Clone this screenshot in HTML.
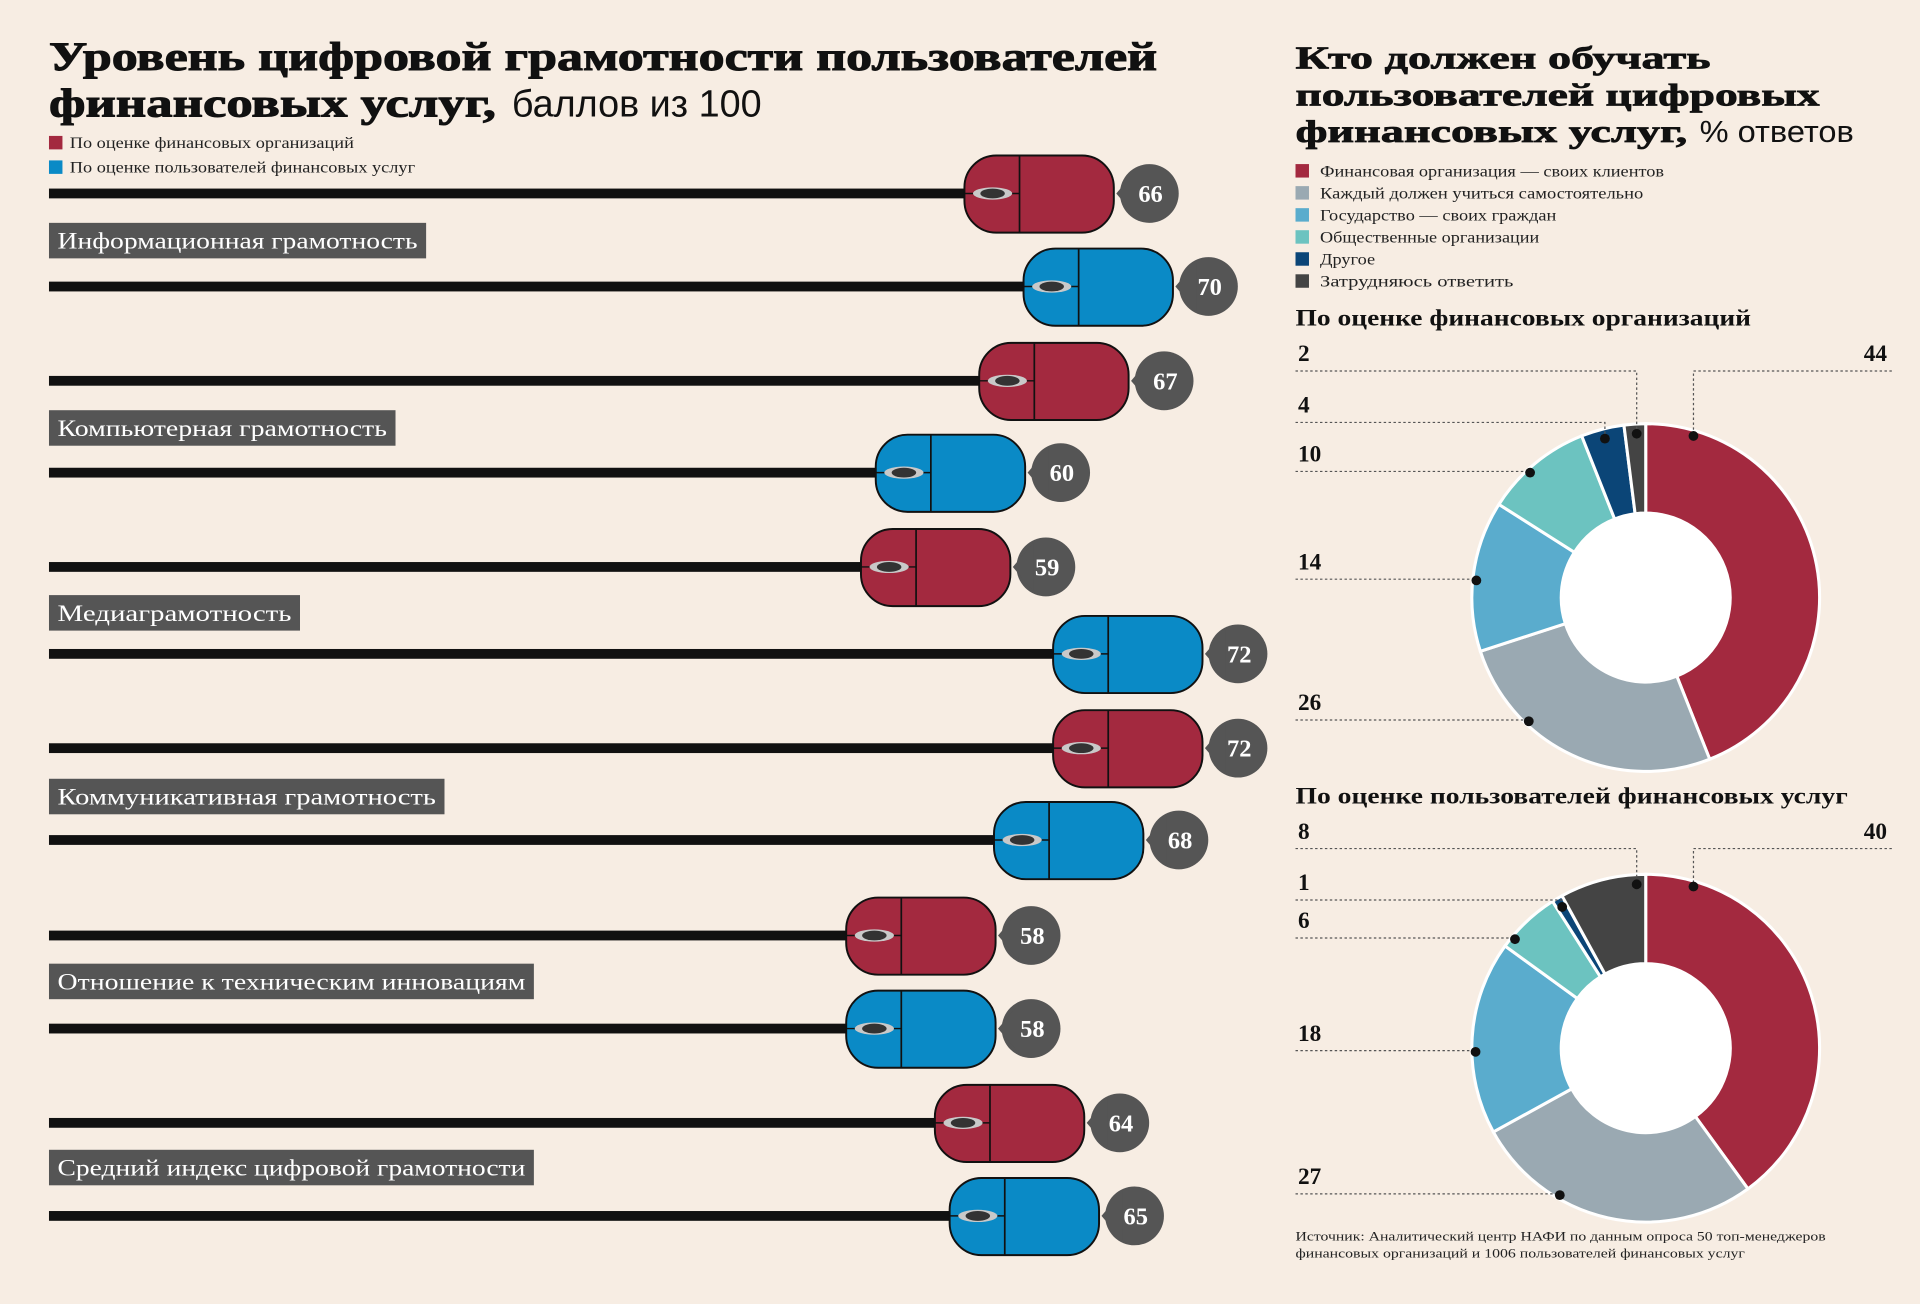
<!DOCTYPE html>
<html><head><meta charset="utf-8">
<style>
html,body{margin:0;padding:0;background:#f7ede3;width:1920px;height:1298px;overflow:hidden}
#wrap{position:absolute;left:0;top:0;width:1568px;height:1060px;transform:scale(1.22449);transform-origin:0 0;font-family:"Liberation Serif",serif}
svg text{font-family:"Liberation Serif",serif}
</style></head>
<body>
<div id="wrap">
<svg id="svg" width="1568" height="1060" viewBox="0 0 1568 1060">
<text x="40" y="57" font-size="33" font-weight="bold" fill="#111" textLength="905" lengthAdjust="spacingAndGlyphs" stroke="#111" stroke-width="0.8">Уровень цифровой грамотности пользователей</text>
<text y="95" font-size="33" fill="#111"><tspan x="40" font-weight="bold" stroke="#111" stroke-width="0.8" textLength="365" lengthAdjust="spacingAndGlyphs">финансовых услуг,</tspan><tspan x="418" font-size="31" font-family="Liberation Sans Narrow, Liberation Sans, sans-serif" textLength="204" lengthAdjust="spacingAndGlyphs">баллов из 100</tspan></text>
<rect x="40" y="111" width="11" height="11" fill="#a3293f"/>
<text x="57" y="121" font-size="13" fill="#222" textLength="232" lengthAdjust="spacingAndGlyphs">По оценке финансовых организаций</text>
<rect x="40" y="131" width="11" height="11" fill="#0a8ac6"/>
<text x="57" y="141" font-size="13" fill="#222" textLength="282" lengthAdjust="spacingAndGlyphs">По оценке пользователей финансовых услуг</text>

<text x="1058" y="56" font-size="26" font-weight="bold" fill="#111" stroke="#111" stroke-width="0.6" textLength="339" lengthAdjust="spacingAndGlyphs">Кто должен обучать</text>
<text x="1058" y="86" font-size="26" font-weight="bold" fill="#111" stroke="#111" stroke-width="0.6" textLength="428" lengthAdjust="spacingAndGlyphs">пользователей цифровых</text>
<text y="116" font-size="26" fill="#111"><tspan x="1058" font-weight="bold" stroke="#111" stroke-width="0.6" textLength="320" lengthAdjust="spacingAndGlyphs">финансовых услуг,</tspan><tspan x="1388" font-size="25" font-family="Liberation Sans Narrow, Liberation Sans, sans-serif" textLength="126" lengthAdjust="spacingAndGlyphs">% ответов</tspan></text>
<g id="rlegend"></g>
<text x="1058" y="266" font-size="19" font-weight="bold" fill="#111" textLength="372" lengthAdjust="spacingAndGlyphs">По оценке финансовых организаций</text>
<text x="1058" y="656" font-size="19" font-weight="bold" fill="#111" textLength="451" lengthAdjust="spacingAndGlyphs">По оценке пользователей финансовых услуг</text>
<g id="bars"></g>
<g id="donuts"></g>
<text x="1058" y="1013" font-size="10.5" fill="#222" textLength="433" lengthAdjust="spacingAndGlyphs">Источник: Аналитический центр НАФИ по данным опроса 50 топ-менеджеров</text>
<text x="1058" y="1027" font-size="10.5" fill="#222" textLength="367" lengthAdjust="spacingAndGlyphs">финансовых организаций и 1006 пользователей финансовых услуг</text>
</svg>
</div>
<script>
const categories = ["Информационная грамотность","Компьютерная грамотность","Медиаграмотность","Коммуникативная грамотность","Отношение к техническим инновациям","Средний индекс цифровой грамотности"];
const orgScores = [66,67,59,72,58,64];
const userScores = [70,60,72,68,58,65];
const answerLabels = ["Финансовая организация — своих клиентов","Каждый должен учиться самостоятельно","Государство — своих граждан","Общественные организации","Другое","Затрудняюсь ответить"];
const orgAnswers = [44,26,14,10,4,2];
const userAnswers = [40,27,18,6,1,8];

const NS="http://www.w3.org/2000/svg";
function mk(tag,attrs,parent){const e=document.createElementNS(NS,tag);for(const k in attrs)e.setAttribute(k,attrs[k]);parent.appendChild(e);return e;}
const colors=["#a3293f","#9aa9b2","#5aaccd","#6cc3c0","#0b4577","#444444"];
const legendTextWidth=[281,264,193,179,45,158];
const labelBoxRight=[348,323,245,363,436,436];

// right legend
const rl=document.getElementById('rlegend');
answerLabels.forEach((l,i)=>{
  const y=140+i*18;
  const r=mk('rect',{x:1058,y:y-6,width:11,height:11,fill:colors[i]},rl);
  
  
  const t=mk('text',{x:1078,y:y+4,'font-size':13,fill:'#222',textLength:legendTextWidth[i],lengthAdjust:'spacingAndGlyphs'},rl);
  t.textContent=l;
  
  
});

// mice bars
const bars=document.getElementById('bars');
const xScale=v=>12.07*v+113;
const rowY=[158,234,311,386,463,534,611,686,764,840,917,993];
const labelY=[182,335,486,636,787,939];
function mouse(v,y,color,name){
  const g=mk('g',{},bars);
  
  
  const right=xScale(v), left=right-122;
  mk('rect',{x:40,y:y-4,width:left-40+2,height:8,fill:'#111'},g);
  mk('rect',{x:left,y:y-31,width:122,height:63,rx:26,ry:26,fill:color,stroke:'#111','stroke-width':1.6},g);
  mk('line',{x1:left+45,y1:y-31,x2:left+45,y2:y+32,stroke:'#111','stroke-width':1.4},g);
  mk('line',{x1:left,y1:y,x2:left+45,y2:y,stroke:'#111','stroke-width':1.2},g);
  mk('ellipse',{cx:left+23,cy:y,rx:16,ry:5,fill:'#c9c9c9'},g);
  mk('ellipse',{cx:left+23,cy:y,rx:10,ry:4,fill:'#333'},g);
  const cx=right+29;
  mk('circle',{cx:cx,cy:y,r:24,fill:'#555'},g);
  mk('path',{d:`M${right+2} ${y} L${cx-10} ${y-20} L${cx-10} ${y+20} Z`,fill:'#555'},g);
  const t=mk('text',{x:cx+1,y:y+7,'font-size':20,'font-weight':'bold',fill:'#fff','text-anchor':'middle','font-family':'Liberation Sans, sans-serif'},g);
  t.textContent=v;
}
categories.forEach((c,i)=>{
  mouse(orgScores[i],rowY[2*i],'#a3293f','mouse-bar-orgs');
  mouse(userScores[i],rowY[2*i+1],'#0a8ac6','mouse-bar-users');
  const g=mk('g',{},bars);
  
  
  mk('rect',{x:40,y:labelY[i],width:labelBoxRight[i]-40,height:29,fill:'#555'},g);
  const t=mk('text',{x:47,y:labelY[i]+21,'font-size':19,fill:'#fff',textLength:labelBoxRight[i]-40-14,lengthAdjust:'spacingAndGlyphs'},g);
  t.textContent=c;
});

// donuts
const dg=document.getElementById('donuts');
function donut(vals,cy,labY,name){
  const cx=1344,R=142,r=69;
  const g=mk('g',{},dg);
  
  
  const tot=vals.reduce((a,b)=>a+b,0);
  let acc=0;
  vals.forEach((v,i)=>{
    const a0=acc/tot*2*Math.PI, a1=(acc+v)/tot*2*Math.PI; acc+=v;
    const p=(a,rad)=>[cx+rad*Math.sin(a),cy-rad*Math.cos(a)];
    const large=(a1-a0)>Math.PI?1:0;
    const [x0,y0]=p(a0,R),[x1,y1]=p(a1,R),[x2,y2]=p(a1,r),[x3,y3]=p(a0,r);
    const s=mk('path',{d:`M${x0} ${y0} A${R} ${R} 0 ${large} 1 ${x1} ${y1} L${x2} ${y2} A${r} ${r} 0 ${large} 0 ${x3} ${y3} Z`,fill:colors[i],stroke:'#fff','stroke-width':2.5},g);
    
    
  });
  mk('circle',{cx:cx,cy:cy,r:r-1,fill:'#fff'},g);
  acc=0;
  vals.forEach((v,i)=>{
    const a0=acc/tot*2*Math.PI;
    const mid=(acc+v/2)/tot*2*Math.PI; acc+=v;
    const ly=labY[i]; const lineY=ly+15;
    let dx,dy,path;
    const lab=mk('text',{y:ly+7,'font-size':19,'font-weight':'bold',fill:'#111','font-family':'Liberation Sans, sans-serif'},g);
    lab.textContent=v;
    
    
    if(i===0){
      dx=cx+39; dy=cy-R+10;
      lab.setAttribute('x',1541);lab.setAttribute('text-anchor','end');
      path=`M1545 ${lineY} L${dx} ${lineY} L${dx} ${dy}`;
    } else {
      lab.setAttribute('x',1060);
      if(lineY<cy-R+25){
        const ang = (i===vals.length-1) ? Math.max(mid, 2*Math.PI-0.055) : mid;
        dx=cx+(R-8)*Math.sin(ang); dy=cy-(R-8)*Math.cos(ang);
        path=`M1058 ${lineY} L${dx} ${lineY} L${dx} ${dy}`;
      } else {
        const ddy=lineY+1-cy; dy=lineY+1; dx=cx-Math.sqrt(Math.max(0,(R-3)*(R-3)-ddy*ddy));
        path=`M1058 ${lineY} L${dx} ${lineY}`;
      }
    }
    mk('path',{d:path,fill:'none',stroke:'#555','stroke-width':1,'stroke-dasharray':'2 2'},g);
    mk('circle',{cx:dx,cy:dy,r:4,fill:'#111'},g);
  });
}
donut(orgAnswers,488,[288,573,458,370,330,288],'donut-orgs');
donut(userAnswers,856,[678,960,843,751,720,678],'donut-users');
</script>
</body></html>
